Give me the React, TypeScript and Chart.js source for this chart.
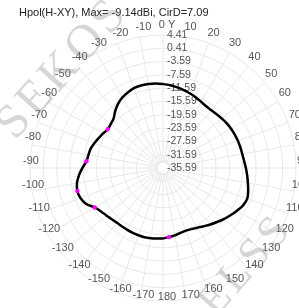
import React, { useEffect, useRef } from 'react';
import { Chart, registerables } from 'chart.js';

Chart.register(...registerables);

const titleText = 'Hpol(H-XY), Max= -9.14dBi, CirD=7.09';

// measurement angles (degrees, clockwise from Y axis)
const angles = [
  0, 5, 10, 15, 20, 25, 30, 35, 40, 45, 50, 55,
  60, 65, 70, 75, 80, 85, 90, 95, 100, 105, 110, 115,
  120, 125, 130, 135, 140, 145, 150, 155, 160, 165, 170, 175,
  180, 185, 190, 195, 200, 205, 210, 215, 220, 225, 230, 235,
  240, 245, 250, 255, 260, 265, 270, 275, 280, 285, 290, 295,
  300, 305, 310, 315, 320, 325, 330, 335, 340, 345, 350, 355,
];

// gain in dBi at each angle
const gainDb = [
  -10.36, -10.6, -10.97, -11.35, -11.75, -12.17, -12.62, -12.95, -12.92, -12.77, -12.47, -12.17,
  -11.96, -11.78, -11.63, -11.5, -11.38, -11.11, -10.66, -10.18, -9.67, -9.07, -8.62, -9.01,
  -9.91, -10.81, -11.72, -12.62, -13.43, -14.21, -14.87, -15.32, -15.53, -15.38, -15.02, -14.72,
  -14.42, -14.27, -14.12, -14.03, -14.06, -14.09, -14.12, -14.12, -14.06, -13.82, -13.37, -12.83,
  -11.87, -10.06, -9.16, -8.92, -9.31, -10.21, -11.35, -12.47, -12.83, -13.07, -13.67, -14.27,
  -14.78, -15.29, -15.05, -14.57, -13.22, -12.02, -11.11, -10.51, -10.03, -9.91, -9.97, -10.09,
];

// angles where magenta markers appear on the trace
const markerAngles = [175, 240, 255, 275, 305];

// angular labels every 10 degrees
const angleLabels = [
  '0 Y', '10', '20', '30', '40', '50', '60', '70', '80', '90',
  '100', '110', '120', '130', '140', '150', '160', '170', '180',
  '-170', '-160', '-150', '-140', '-130', '-120', '-110', '-100', '-90',
  '-80', '-70', '-60', '-50', '-40', '-30', '-20', '-10',
];

const rMin = -35.59;
const rMax = 4.41;
const rStep = 4;

const FONT = '"Liberation Sans", Arial, sans-serif';

const polarDecor = {
  id: 'polarDecor',
  beforeDatasetsDraw(chart: any) {
    const s = chart.scales.r;
    const ctx = chart.ctx;
    ctx.save();
    // small white hole at the center
    ctx.beginPath();
    ctx.arc(s.xCenter, s.yCenter, 6, 0, Math.PI * 2);
    ctx.fillStyle = '#ffffff';
    ctx.fill();
    ctx.strokeStyle = '#e2e2e2';
    ctx.lineWidth = 1;
    ctx.stroke();

    // radial tick labels, left aligned just right of the Y axis
    ctx.font = '10.5px ' + FONT;
    ctx.fillStyle = '#555555';
    ctx.textAlign = 'left';
    ctx.textBaseline = 'middle';
    s.ticks.forEach((t: any) => {
      const d = s.getDistanceFromCenterForValue(t.value);
      ctx.fillText(Number(t.value).toFixed(2), s.xCenter + 4, s.yCenter - d);
    });

    // angular labels
    ctx.font = '11px ' + FONT;
    ctx.textAlign = 'center';
    angleLabels.forEach((lab, k) => {
      const idx = angles.indexOf(k * 10);
      const p = s.getPointPosition(idx, s.drawingArea + 3);
      ctx.fillText(lab, p.x + 4, p.y - 7);
    });
    ctx.restore();
  },
  afterDraw(chart: any) {
    const ctx = chart.ctx;
    ctx.save();
    ctx.font = '11px ' + FONT;
    ctx.fillStyle = '#222222';
    ctx.textAlign = 'left';
    ctx.textBaseline = 'middle';
    ctx.fillText(titleText, 19, 13);

    // watermarks
    ctx.fillStyle = 'rgba(130,130,130,0.33)';
    ctx.textBaseline = 'alphabetic';
    (ctx as any).letterSpacing = '4px';
    ctx.font = '48px "Liberation Serif", "Times New Roman", serif';
    ctx.save();
    ctx.translate(15, 141);
    ctx.rotate((-48 * Math.PI) / 180);
    ctx.fillText('SEKOS', 0, 0);
    ctx.restore();
    ctx.font = '44px "Liberation Serif", "Times New Roman", serif';
    ctx.save();
    ctx.translate(216, 318);
    ctx.rotate((-49 * Math.PI) / 180);
    ctx.fillText('ELSS', 0, 0);
    ctx.restore();
    ctx.restore();
  },
};

export default function App() {
  const ref = useRef<HTMLCanvasElement | null>(null);
  useEffect(() => {
    if (!ref.current) return;
    const chart = new Chart(ref.current, {
      type: 'radar',
      data: {
        labels: angles.map(String),
        datasets: [
          {
            data: gainDb,
            borderColor: '#000000',
            borderWidth: 2.5,
            fill: false,
            tension: 0.35,
            pointRadius: (c: any) => (markerAngles.includes(angles[c.dataIndex]) ? 2.2 : 0),
            pointBackgroundColor: '#ff00ff',
            pointBorderColor: '#ff00ff',
            pointBorderWidth: 0,
          },
        ],
      },
      options: {
        responsive: false,
        maintainAspectRatio: false,
        animation: false,
        layout: { padding: { left: 30, right: 3, top: 35, bottom: 7 } },
        plugins: {
          legend: { display: false },
          title: { display: false },
          tooltip: { enabled: false },
        },
        scales: {
          r: {
            min: rMin,
            max: rMax,
            ticks: { stepSize: rStep, display: false },
            pointLabels: { display: false },
            grid: { circular: true, color: '#e8e8e8', lineWidth: 1 },
            angleLines: {
              display: true,
              color: '#e8e8e8',
              lineWidth: (c: any) => (c.index % 2 === 0 ? 1 : 0),
            },
          },
        },
      },
      plugins: [polarDecor],
    } as any);
    return () => chart.destroy();
  }, []);
  return (
    <div style={{ position: 'absolute', left: 0, top: 0, width: 299, height: 308, background: '#fff' }}>
      <canvas ref={ref} width={299} height={308} style={{ display: 'block' }} />
    </div>
  );
}
